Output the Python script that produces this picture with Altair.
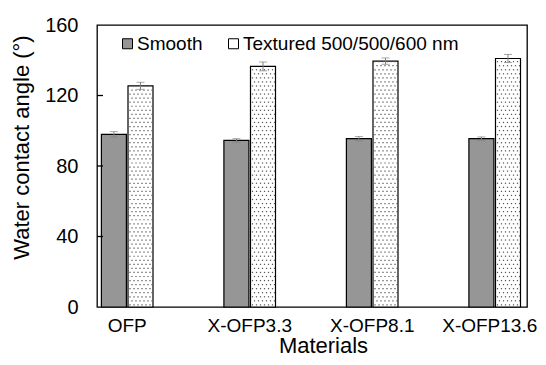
import altair as alt
import pandas as pd

materials = ["OFP", "X-OFP3.3", "X-OFP8.1", "X-OFP13.6"]
series = ["Smooth", "Textured 500/500/600 nm"]
smooth_vals = [98.0, 94.5, 95.5, 95.5]
smooth_err = [1.5, 1.0, 1.2, 1.0]
textured_vals = [125.5, 136.5, 139.5, 141.0]
textured_err = [2.0, 2.5, 1.8, 2.3]
y_ticks = [0, 40, 80, 120, 160]

rows = []
for i, m in enumerate(materials):
    rows.append(dict(material=m, series=series[0], value=smooth_vals[i], err=smooth_err[i]))
    rows.append(dict(material=m, series=series[1], value=textured_vals[i], err=textured_err[i]))
df = pd.DataFrame(rows)
df["lo"] = df["value"] - df["err"]
df["hi"] = df["value"] + df["err"]

FONT = "Liberation Sans"
x_scale = alt.Scale(domain=materials, range=[-31, 459], paddingInner=0, paddingOuter=0)
xo_scale = alt.Scale(domain=series, range=[35.4, 87], paddingInner=0.06, paddingOuter=0)
y_scale = alt.Scale(domain=[0, 160], nice=False)

last_label = alt.datum.value == materials[-1]
x_axis = alt.Axis(ticks=False, domain=False, labelAngle=0, labelFontSize=19, labelFont=FONT,
                  labelColor="black", labelPadding=9,
                  labelOffset=alt.condition(last_label, alt.value(-5), alt.value(0)),
                  title="Materials", titleFontSize=22,
                  titleFont=FONT, titleFontWeight="normal", titleColor="black", titleX=226,
                  titleY=38, titleBaseline="middle", titleAlign="center")
y_axis = alt.Axis(values=y_ticks, ticks=False, domain=False, grid=False, labelFontSize=20,
                  labelFont=FONT, labelColor="black", labelPadding=19,
                  title="Water contact angle (°)", titleFontSize=22, titleFont=FONT,
                  titleFontWeight="normal", titleColor="black", titleX=-76, titleY=122,
                  titleAlign="center", titleBaseline="middle")

x_enc = alt.X("material:N", scale=x_scale, sort=materials, axis=x_axis)
xo_enc = alt.XOffset("series:N", scale=xo_scale, sort=series)

bars = alt.Chart(df).mark_bar(stroke="black", strokeWidth=1.2).encode(
    x=x_enc,
    xOffset=xo_enc,
    y=alt.Y("value:Q", scale=y_scale, axis=y_axis),
    fill=alt.Fill("series:N", sort=series,
                  scale=alt.Scale(domain=series, range=["#969696", "#ffffff"]),
                  legend=alt.Legend(title=None, orient="none", legendX=21, legendY=9,
                                    direction="horizontal", symbolType="square",
                                    symbolSize=100, symbolStrokeColor="black",
                                    symbolStrokeWidth=1, labelFontSize=19, labelFont=FONT,
                                    labelColor="black", columnPadding=21, labelOffset=0,
                                    labelLimit=400, padding=0)),
)

dots = alt.Chart(df).transform_filter(
    alt.datum.series == series[1]
).transform_calculate(
    r="sequence(0, floor((datum.value - 1.5) / 2.3) + 1)"
).transform_flatten(["r"]).transform_calculate(
    c="sequence(0, 6)"
).transform_flatten(["c"]).transform_calculate(
    yy="1.2 + datum.r * 2.3",
    px="64 + datum.c * 4 + (datum.r % 2) * 2",
).mark_square(size=1.5, color="#555555", opacity=1).encode(
    x=alt.X("material:N", scale=x_scale, sort=materials, axis=x_axis, bandPosition=0),
    xOffset=alt.XOffset("px:Q", scale=alt.Scale(domain=[0, 100], range=[0, 100])),
    y=alt.Y("yy:Q", scale=y_scale, axis=y_axis),
)

err_rule = alt.Chart(df).mark_rule(color="#808080", strokeWidth=1).encode(
    x=x_enc, xOffset=xo_enc,
    y=alt.Y("lo:Q", scale=y_scale, axis=y_axis), y2="hi:Q",
)
cap_hi = alt.Chart(df).mark_tick(color="#808080", size=8, thickness=1).encode(
    x=x_enc, xOffset=xo_enc, y=alt.Y("hi:Q", scale=y_scale, axis=y_axis),
)
cap_lo = alt.Chart(df).mark_tick(color="#808080", size=8, thickness=1).encode(
    x=x_enc, xOffset=xo_enc, y=alt.Y("lo:Q", scale=y_scale, axis=y_axis),
)

tick_df = pd.DataFrame({"t": y_ticks[1:-1]})
inward = alt.Chart(tick_df).mark_rule(color="black", strokeWidth=1.3).encode(
    y=alt.Y("t:Q", scale=y_scale, axis=y_axis), x=alt.value(0), x2=alt.value(6),
)

chart = alt.layer(bars, dots, err_rule, cap_hi, cap_lo, inward).resolve_scale(
    xOffset="independent"
).properties(
    width=430, height=282,
    padding={"left": 89, "top": 17, "right": 11, "bottom": 50},
    autosize=alt.AutoSizeParams(type="none"),
).configure_view(stroke="black", strokeWidth=1.3)

chart.save("out.html", embed_options={"renderer": "svg", "actions": False})
